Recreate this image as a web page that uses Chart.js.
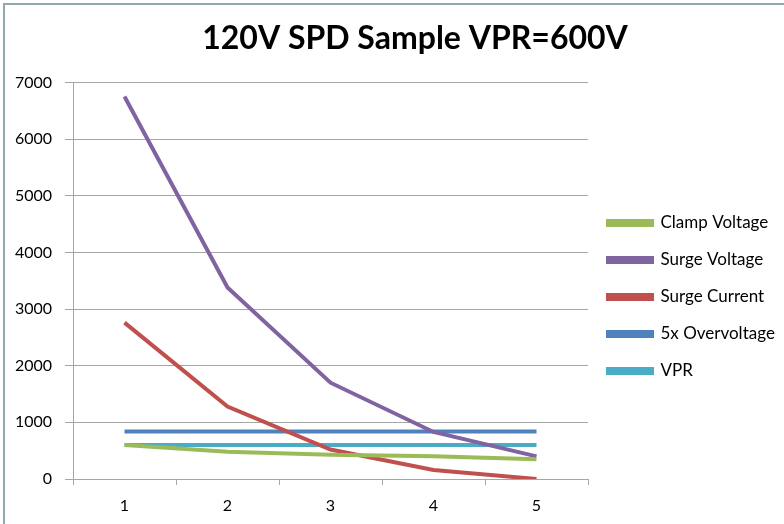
<!DOCTYPE html>
<html>
<head>
<meta charset="utf-8">
<script src="https://cdn.jsdelivr.net/npm/chart.js@4"></script>
<style>
  html, body { margin: 0; padding: 0; background: #fff; }
  #wrap { position: relative; width: 784px; height: 524px; }
  #frame { position: absolute; left: 3px; top: 3px; right: 0; bottom: 0;
           border-left: 2px solid #93a7b2; border-top: 2px solid #93a7b2; pointer-events: none; }
</style>
</head>
<body>
<div id="wrap">
  <canvas id="spdChart" width="784" height="524"></canvas>
  <div id="frame"></div>
</div>
<script>
// Données du graphique
const categories = ['1', '2', '3', '4', '5'];
const clampVoltage = [600, 480, 430, 400, 350];
const surgeVoltage = [6750, 3380, 1700, 830, 400];
const surgeCurrent = [2760, 1280, 520, 160, 0];
const overvoltage5x = [840, 840, 840, 840, 840];
const vpr = [600, 600, 600, 600, 600];

const gridColor = '#a6a6a6';

function serie(label, data, color) {
    return {
        label: label,
        data: data,
        borderColor: color,
        backgroundColor: color,
        borderWidth: 4,
        pointRadius: 0,
        tension: 0,
        fill: false
    };
}

// Ajustements de mise en page : titre décalé à droite, légende descendue
const layoutTweaks = {
    id: 'layoutTweaks',
    afterLayout(chart) {
        if (chart.titleBlock) chart.titleBlock.left += 46;
        if (chart.legend) {
            chart.legend.top += 35;
            chart.legend.bottom += 35;
        }
    }
};

document.addEventListener('DOMContentLoaded', function() {
    const ctx = document.getElementById('spdChart').getContext('2d');
    new Chart(ctx, {
        type: 'line',
        data: {
            labels: categories,
            datasets: [
                serie('Clamp Voltage', clampVoltage, '#9bbb59'),
                serie('Surge Voltage', surgeVoltage, '#8064a2'),
                serie('Surge Current', surgeCurrent, '#c0504d'),
                serie('5x Overvoltage', overvoltage5x, '#4f81bd'),
                serie('VPR', vpr, '#4bacc6')
            ]
        },
        plugins: [layoutTweaks],
        options: {
            responsive: false,
            animation: false,
            plugins: {
                title: {
                    display: true,
                    text: '120V SPD Sample VPR=600V',
                    color: '#000',
                    font: { family: 'Lato', size: 32, weight: 'bold' },
                    padding: { top: 19, bottom: 25 }
                },
                legend: {
                    position: 'right',
                    labels: {
                        boxWidth: 44,
                        boxHeight: 4,
                        padding: 20,
                        color: '#000',
                        font: { family: 'Lato', size: 17 }
                    }
                },
                tooltip: { enabled: false }
            },
            scales: {
                x: {
                    offset: true,
                    grid: {
                        offset: true,
                        drawOnChartArea: false,
                        tickLength: 6,
                        color: gridColor
                    },
                    border: { color: gridColor },
                    ticks: {
                        color: '#000',
                        padding: 11,
                        font: { family: 'Lato', size: 16 }
                    },
                    afterFit: function(scale) { scale.height = 45; }
                },
                y: {
                    min: 0,
                    max: 7000,
                    grid: {
                        color: gridColor,
                        tickLength: 8
                    },
                    border: { color: gridColor },
                    ticks: {
                        stepSize: 1000,
                        color: '#000',
                        padding: 13,
                        font: { family: 'Lato', size: 16 },
                        callback: function(value) {
                            return String(value);
                        }
                    },
                    afterFit: function(scale) { scale.width = 73; }
                }
            }
        }
    });
});
</script>
</body>
</html>
